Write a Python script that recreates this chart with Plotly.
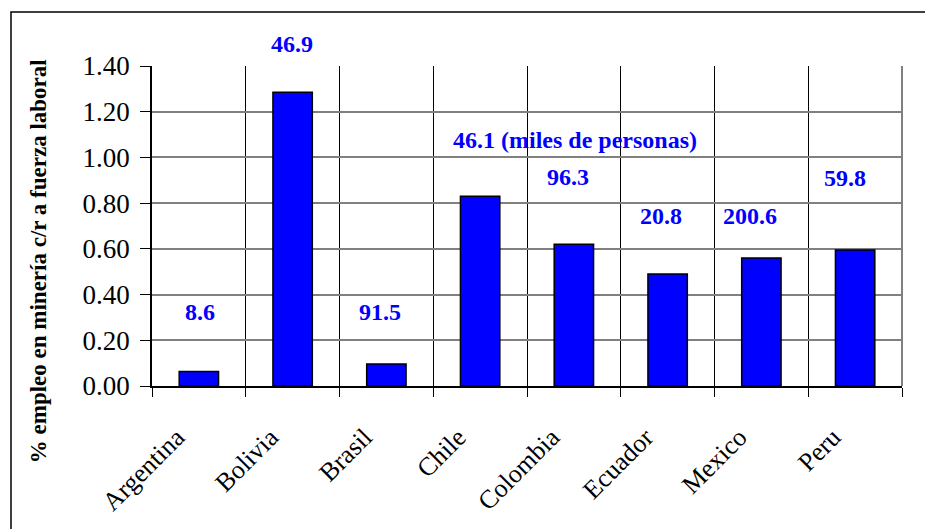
import plotly.graph_objects as go

countries = ["Argentina", "Bolivia", "Brasil", "Chile", "Colombia", "Ecuador", "Mexico", "Peru"]
share_pct = [0.063, 1.285, 0.096, 0.83, 0.62, 0.49, 0.56, 0.595]
employment_label = ["8.6", "46.9", "91.5", "46.1 (miles de personas)", "96.3", "20.8", "200.6", "59.8"]
y_ticks = [0.0, 0.2, 0.4, 0.6, 0.8, 1.0, 1.2, 1.4]
y_title = "% empleo en minería c/r a fuerza laboral"

SERIF = "'Times New Roman', 'Liberation Serif', 'DejaVu Serif', serif"

# annotation placement (data y, px shifts, anchor)
label_y = [0.325, 1.4, 0.325, 1.075, 0.913, 0.743, 0.743, 0.909]
label_yshift = [0, 22, 0, 0, 0, 0, 0, 0]
label_dx = [1, -1, -6, -9, -6, -7, -11, -10]
label_anchor = ["center", "center", "center", "left", "center", "center", "center", "center"]

fig = go.Figure()
fig.add_trace(go.Bar(
    x=countries, y=share_pct, width=0.42,
    marker=dict(color="#0000FF", line=dict(color="#000000", width=1.5)),
    hoverinfo="x+y",
))

for i, t in enumerate(employment_label):
    left = label_anchor[i] == "left"
    fig.add_annotation(
        x=(i - 0.21) if left else i, y=label_y[i], text="<b>%s</b>" % t,
        xref="x", yref="y", showarrow=False,
        xanchor=label_anchor[i], yanchor="middle",
        xshift=label_dx[i], yshift=label_yshift[i],
        font=dict(family=SERIF, size=24, color="#0000FF"),
    )

# y axis title
fig.add_annotation(
    x=-0.152, y=0.39, xref="paper", yref="paper", showarrow=False,
    text="<b>%s</b>" % y_title, textangle=-90,
    xanchor="center", yanchor="middle",
    font=dict(family=SERIF, size=23, color="#000000"),
)

# outer frame of the chart area
fig.add_shape(type="rect", xref="paper", yref="paper",
              x0=-0.188, x1=1.2, y0=-0.8, y1=1.169,
              line=dict(color="#000000", width=1.5), layer="below")
# right border of plot area (gray)
fig.add_shape(type="line", xref="paper", yref="paper", x0=1, x1=1, y0=0, y1=1,
              line=dict(color="#808080", width=2))

fig.update_layout(
    width=925, height=529,
    margin=dict(l=152, r=23, t=66, b=143),
    paper_bgcolor="white", plot_bgcolor="white",
    showlegend=False,
    font=dict(family=SERIF, color="#000000"),
    xaxis=dict(
        type="category", tickson="boundaries",
        showgrid=True, gridcolor="#000000", gridwidth=1,
        showline=True, linecolor="#000000", linewidth=1.5,
        ticks="outside", ticklen=9, tickcolor="#000000",
        tickangle=-45, tickfont=dict(size=26, family=SERIF),
        ticklabelshift=-22, ticklabelstandoff=24,
        range=[-0.5, 7.5],
    ),
    yaxis=dict(
        range=[0, 1.4], tickvals=y_ticks, tickformat=".2f",
        showgrid=True, gridcolor="#808080", gridwidth=1.5,
        showline=True, linecolor="#000000", linewidth=1.5,
        ticks="outside", ticklen=10, tickcolor="#000000",
        tickfont=dict(size=27, family=SERIF),
        ticklabelstandoff=5,
        zeroline=False,
    ),
)

fig.write_html("out.html")
